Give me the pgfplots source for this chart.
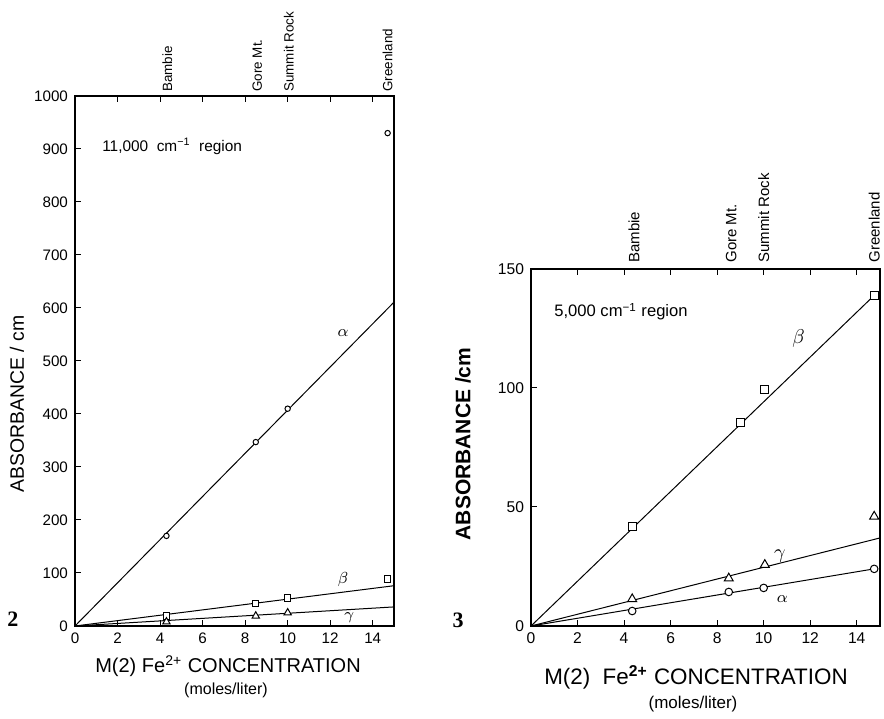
\documentclass[border=0pt]{standalone}
\usepackage{fontspec}
\setmainfont{Liberation Sans}
\newfontfamily\serifnum{Liberation Serif}
\usepackage{pgfplots}
\pgfplotsset{compat=1.18}
\pgfplotsset{
  common/.style={
    anchor=south west, scale only axis, xmin=0, xmax=15, ymin=0,
    xtick={0,2,...,14}, tick align=inside, xtick pos=both, ytick pos=left,
    xticklabel pos=lower, major tick length=3pt,
    tick style={line width=0.5pt, black},
    axis line style={line width=0.6pt},
    /pgf/number format/assume math mode=true,
    /pgf/number format/1000 sep={},
    clip=false,
  },
  fitline/.style={line width=0.5pt, black, no marks},
  pts/.style={only marks, black, mark options={fill=white, line width=0.5pt, solid}},
}
\tikzset{
  topL/.style={rotate=90, anchor=west, inner sep=0pt, font=\fontsize{6.7}{7}\selectfont},
  topR/.style={rotate=90, anchor=west, inner sep=0pt, font=\fontsize{7.5}{8}\selectfont},
}
\begin{document}
\begin{tikzpicture}
\path (0,0) rectangle (442pt,357pt);
% ---------------- panel 2 ----------------
\begin{axis}[common, at={(37.5pt,44pt)}, width=159.5pt, height=265pt,
  ymax=1000, ytick={0,100,...,1000},
  tick label style={font=\fontsize{7.6}{8}\selectfont}]
\addplot[fitline] coordinates {(0,0) (15,611)};
\addplot[fitline] coordinates {(0,0) (15,76)};
\addplot[fitline] coordinates {(0,0) (15,36)};
\addplot[pts, mark=*, mark size=1.35pt] coordinates {(4.3,170) (8.5,347) (10,410) (14.7,930)};
\addplot[pts, mark=square*, mark size=1.6pt] coordinates {(4.3,19) (8.5,42) (10,53) (14.7,89)};
\addplot[pts, mark=triangle*, mark size=2.1pt] coordinates {(4.3,8) (8.5,19) (10,25)};
\node[font=\fontsize{8.5}{9}\selectfont] at (axis cs:12.6,553) {$\alpha$};
\node[font=\fontsize{8.5}{9}\selectfont] at (axis cs:12.6,87) {$\beta$};
\node[font=\fontsize{8.5}{9}\selectfont] at (axis cs:12.9,15) {$\gamma$};
\node[anchor=west, font=\fontsize{7.7}{8}\selectfont] at (axis cs:0.95,905) {11,000\ \ cm\textsuperscript{\char"2212 1}\ \ region};
\node[topL] at (axis cs:4.34,1000) {\hspace*{2pt}Bambie};
\node[topL] at (axis cs:8.57,1000) {\hspace*{2pt}Gore Mt.};
\node[topL] at (axis cs:10.05,1000) {\hspace*{2pt}Summit Rock};
\node[topL] at (axis cs:14.7,1000) {\hspace*{2pt}Greenland};
\end{axis}
% ---------------- panel 3 ----------------
\begin{axis}[common, at={(265.5pt,44pt)}, width=174.5pt, height=178.5pt,
  ymax=150, ytick={0,50,100,150},
  tick label style={font=\fontsize{7.8}{8}\selectfont}]
\addplot[fitline] coordinates {(0,0) (14.6,137.5)};
\addplot[fitline] coordinates {(0,0) (15,37)};
\addplot[fitline] coordinates {(0,0) (14.75,24)};
\addplot[pts, mark=square*, mark size=2pt] coordinates {(4.35,42) (9.0,85.5) (10.05,99.5) (14.75,139)};
\addplot[pts, mark=triangle*, mark size=2.6pt] coordinates {(4.35,11.3) (8.5,20) (10.05,25.7) (14.75,46)};
\addplot[pts, mark=*, mark size=1.9pt] coordinates {(4.35,6.3) (8.5,14.3) (10,16) (14.75,24)};
\node[font=\fontsize{10}{11}\selectfont] at (axis cs:11.5,121) {$\beta$};
\node[font=\fontsize{10}{11}\selectfont] at (axis cs:10.7,29.5) {$\gamma$};
\node[font=\fontsize{8.5}{9}\selectfont] at (axis cs:10.8,11.5) {$\alpha$};
\node[anchor=west, font=\fontsize{8.3}{9}\selectfont] at (axis cs:0.7,132) {5,000\ cm\textsuperscript{\char"2212 1} region};
\node[topR] at (axis cs:4.43,150) {\hspace*{3pt}Bambie};
\node[topR] at (axis cs:8.6,150) {\hspace*{3pt}Gore Mt.};
\node[topR] at (axis cs:10.0,150) {\hspace*{3pt}Summit Rock};
\node[topR] at (axis cs:14.75,150) {\hspace*{3pt}Greenland};
\end{axis}
% ---------------- outer labels ----------------
\node[rotate=90, font=\fontsize{9.7}{10}\selectfont] at (8.5pt,155pt) {ABSORBANCE / cm};
\node[font=\fontsize{10}{10}\selectfont] at (114pt,24pt) {M(2)\ Fe\textsuperscript{2+} CONCENTRATION};
\node[font=\fontsize{8}{9}\selectfont] at (113pt,12pt) {(moles/liter)};
\node[font=\fontsize{11}{12}\selectfont\serifnum\bfseries] at (6.5pt,47.5pt) {2};
\node[rotate=90, font=\bfseries\fontsize{10.5}{12}\selectfont] at (231.5pt,135pt) {ABSORBANCE /cm};
\node[font=\fontsize{11.2}{11}\selectfont] at (348pt,18.5pt) {M(2)\ \ Fe\textsuperscript{\bfseries 2+} CONCENTRATION};
\node[font=\fontsize{8.5}{9}\selectfont] at (346.5pt,5pt) {(moles/liter)};
\node[font=\fontsize{11}{12}\selectfont\serifnum\bfseries] at (229pt,47pt) {3};
\end{tikzpicture}
\end{document}
